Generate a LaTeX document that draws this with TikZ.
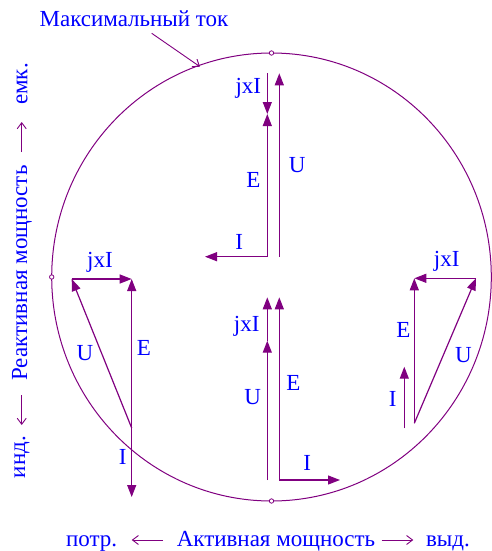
\documentclass[tikz,border=0pt]{standalone}
\usepackage{fontspec}
\setmainfont{Liberation Serif}
\usetikzlibrary{arrows.meta}
\definecolor{vecpurple}{RGB}{128,0,128}
\definecolor{txtblue}{RGB}{0,0,255}
\newcommand{\lblfont}{\fontsize{23}{27}\selectfont}

\begin{document}
\begin{tikzpicture}[x=1pt, y=-1pt,
  every node/.style={font=\lblfont, text=txtblue, inner sep=0pt},
  vec/.style={vecpurple, line width=1.2pt, -{Triangle[length=12pt, width=9pt]}},
  axisarrow/.style={vecpurple, line width=0.9pt, -{Straight Barb[length=6pt, width=9pt]}}]
\useasboundingbox (0,0) rectangle (492,551);

% Circle of maximal current
\draw[vecpurple, line width=1pt] (271.5,277) ellipse [x radius=219.8, y radius=224];
\foreach \n/\x/\y in {top/271.5/53, bot/271.5/501, lft/51.7/277} {
  \coordinate (m\n) at (\x,\y);
  \draw[vecpurple, fill=white, line width=0.8pt] (m\n) circle (2.2);
}

% Title with pointer
\node[anchor=base] (title) at (134,27) {Максимальный ток};
\coordinate (titletail) at (151.7,33.3);
\coordinate (titletip) at (200,66.7);
\draw[axisarrow] (titletail) -- (titletip);

% Axes captions
\node[anchor=base] (potr) at (91.7,546) {потр.};
\node[anchor=base] (aktiv) at (276,546) {Активная мощность};
\node[anchor=base] (vyd) at (448,546) {выд.};
\coordinate (pl1) at (163,540);   \coordinate (pl2) at (131.7,540);
\coordinate (pr1) at (381.7,540); \coordinate (pr2) at (413.3,540);
\draw[axisarrow] (pl1) -- (pl2);
\draw[axisarrow] (pr1) -- (pr2);

\node[rotate=90] (emk) at (22,84) {емк.};
\node[rotate=90] (reakt) at (22,273) {Реактивная мощность};
\node[rotate=90] (ind) at (22,457) {инд.};
\coordinate (qu1) at (21.7,152); \coordinate (qu2) at (21.7,122);
\coordinate (qd1) at (21.7,395); \coordinate (qd2) at (21.7,425);
\draw[axisarrow] (qu1) -- (qu2);
\draw[axisarrow] (qd1) -- (qd2);

% Vector points (top, left, bottom, right)
\foreach \n/\x/\y in {
  tO/267.3/256.7, tE/267.3/114, tJ/267.3/73.3, tUo/279.3/256.7, tU/279.3/73.3, tI/205/256.7,
  lO/131.7/428, lE/131.7/279, lJ/71.7/279, lI/131.7/497,
  bUo/267.3/480, bU/267.3/340.7, bJ/267.3/297.3, bO/279.3/480, bE/279.3/297.3, bI/340/480,
  rO/414.3/423.3, rE/414.3/278.3, rJ/476/278.3, rIo/404.3/428.3, rI/404.3/366.7%
} {
  \coordinate (\n) at (\x,\y);
}

% Vectors
\foreach \a/\b in {
  tO/tE, tJ/tE, tUo/tU, tO/tI,
  lO/lE, lJ/lE, lO/lJ, lO/lI,
  bUo/bU, bU/bJ, bO/bE, bO/bI,
  rO/rE, rJ/rE, rO/rJ, rIo/rI%
} {
  \draw[vec] (\a) -- (\b);
}

% Vector labels
\foreach \n/\x/\y/\t in {
  tlJ/248.3/88.3/jxI, tlE/253.3/180/E, tlU/297.3/165/U, tlI/239.3/241.7/I,
  llJ/100/262/jxI, llU/85/353/U, llE/144/348/E, llI/122.7/457/I,
  blJ/246.7/326.7/jxI, blU/252.7/396.7/U, blE/293.3/383.3/E, blI/307.3/463.3/I,
  rlJ/446.7/261.7/jxI, rlE/403.3/330/E, rlU/463.3/355/U, rlI/392.7/399.3/I%
} {
  \node (\n) at (\x,\y) {\t};
}
\end{tikzpicture}
\end{document}
